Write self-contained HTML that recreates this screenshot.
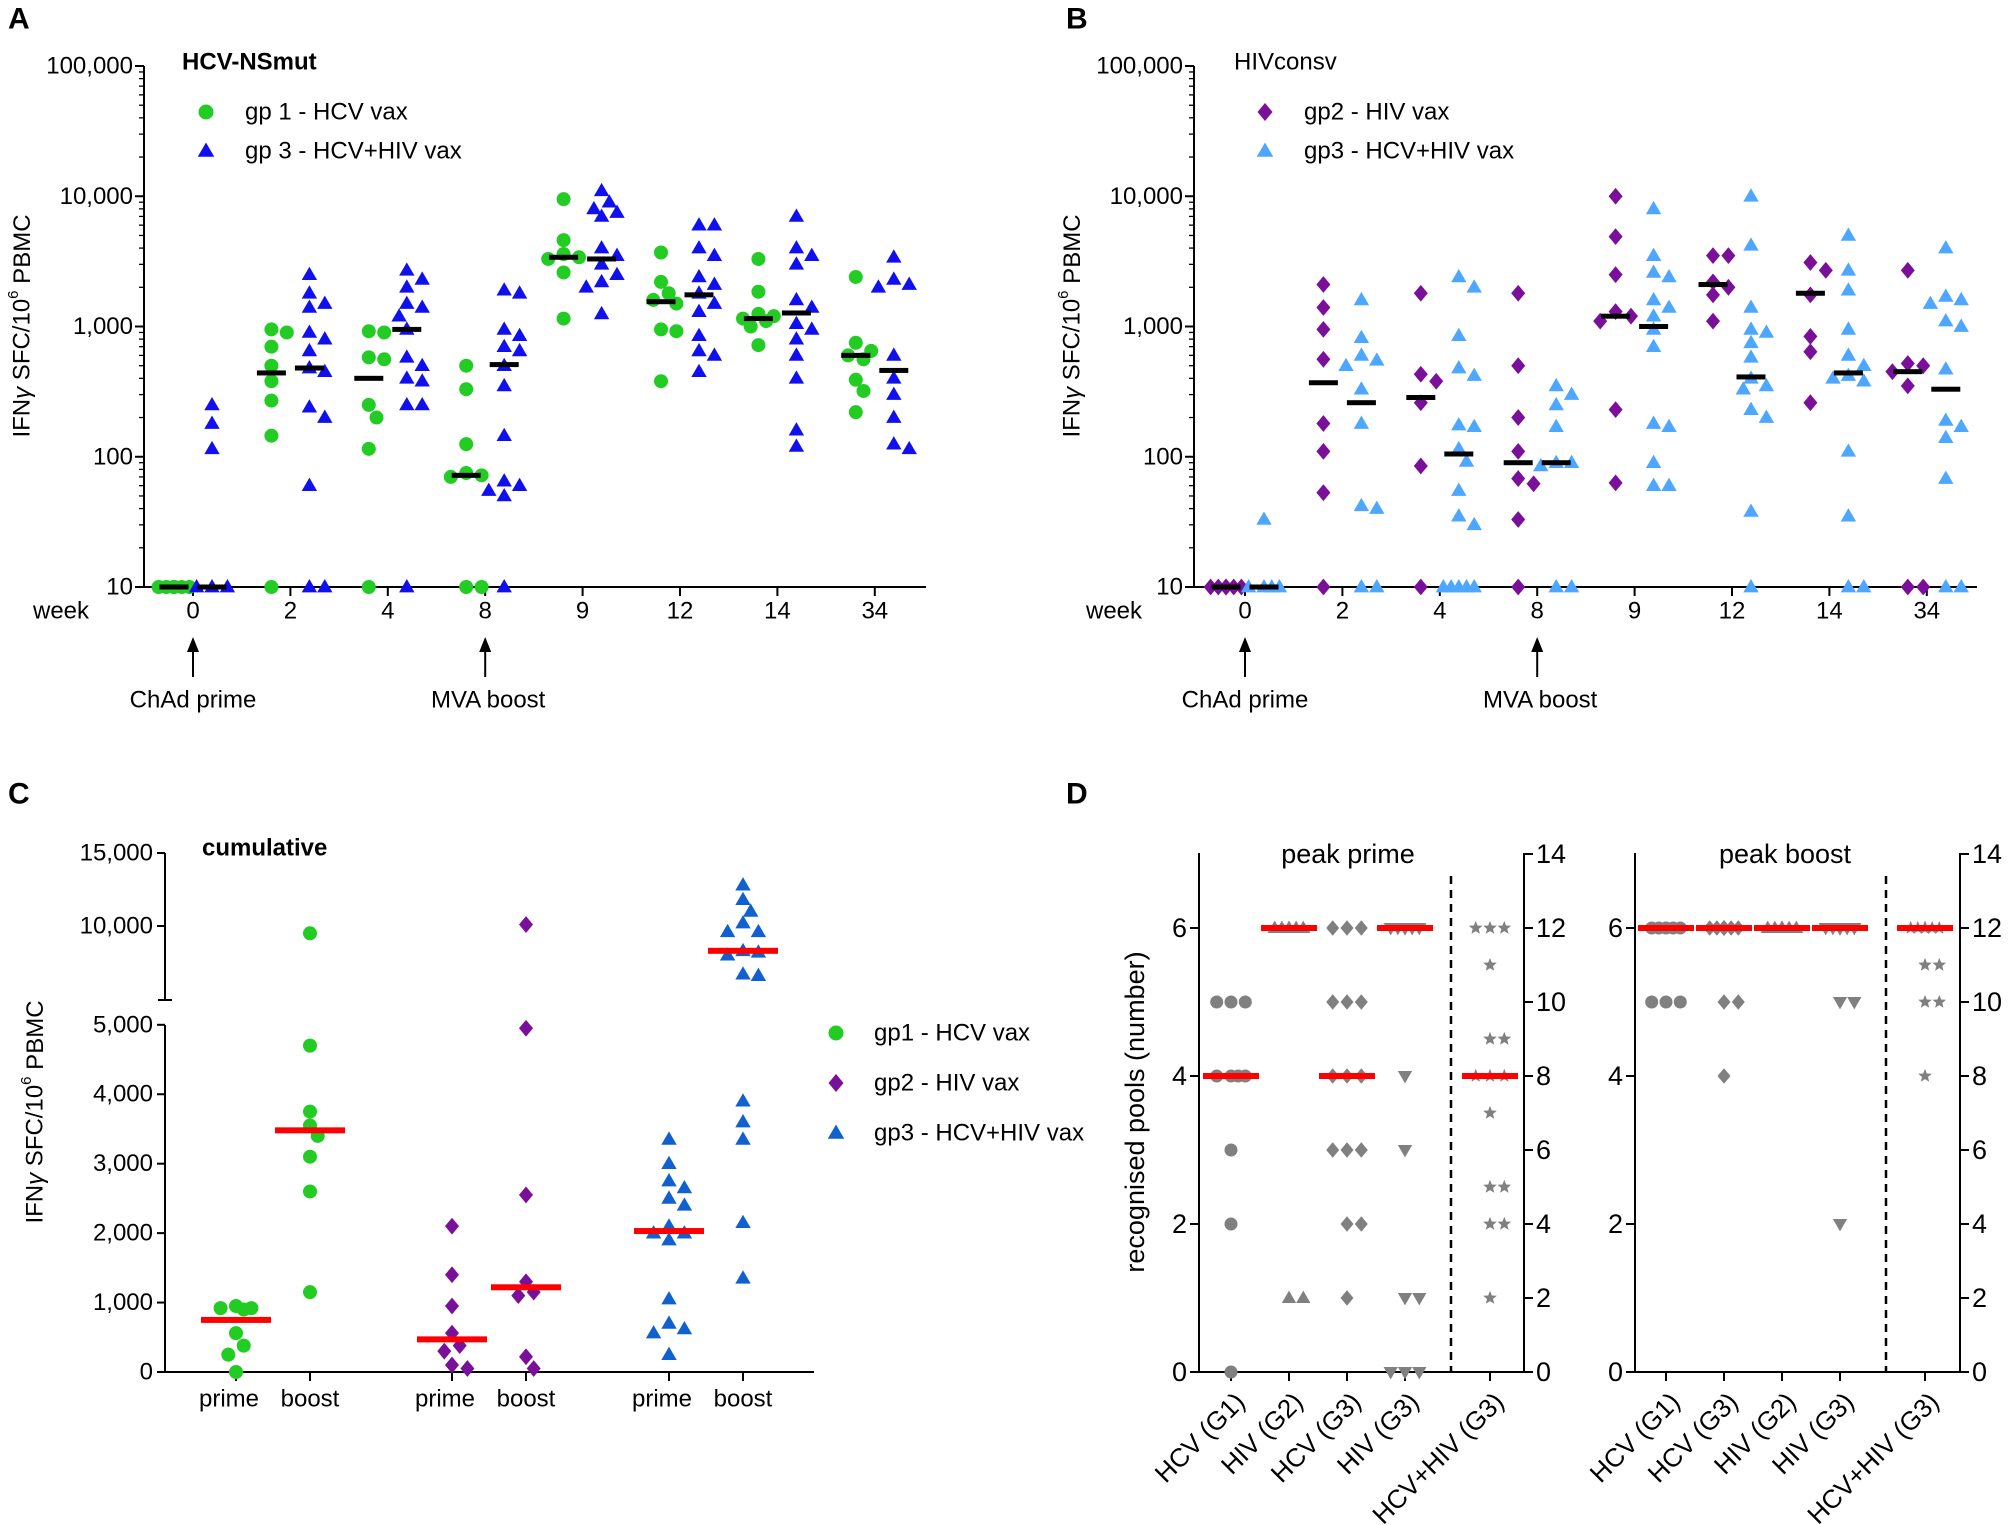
<!DOCTYPE html>
<html><head><meta charset="utf-8">
<style>
html,body{margin:0;padding:0;background:#fff;}
svg{display:block;font-family:"Liberation Sans",Arial,sans-serif;}
</style></head>
<body>
<svg id="fig" width="2008" height="1525" viewBox="0 0 2008 1525" xmlns="http://www.w3.org/2000/svg">
</svg>
<script>
// ---------- Panel A data (HCV-NSmut) ----------
const weeksA = ["0","2","4","8","9","12","14","34"];
const gp1A = [
 [10,10,10,10,10,10,10,10],
 [950,900,700,500,380,270,145,10],
 [920,900,580,560,250,200,115,10],
 [500,330,125,75,72,70,10,10],
 [9500,4600,3600,3400,3300,2600,1150],
 [3700,2200,1800,1600,1500,950,920,380],
 [3300,1850,1250,1200,1150,1100,1000,720],
 [2400,750,650,600,560,390,320,220]];
const gp3A = [
 [250,180,115,10,10,10],
 [2500,1800,1500,1400,900,800,650,480,450,240,200,60,10,10],
 [2700,2300,2000,1500,1400,1200,950,580,500,400,380,250,250,10],
 [1900,1800,950,850,700,650,500,350,145,65,60,55,50,10],
 [11000,9000,8000,7500,7000,4000,3500,3000,2500,2200,2000,1250],
 [6000,6000,4000,3500,2400,2100,1800,1500,1300,850,650,600,450],
 [7000,4000,3500,3000,1600,1400,1050,950,800,600,400,160,120],
 [3400,2300,2100,2000,600,400,300,200,125,115]];
const gp1AMed = [10,440,400,72,3400,1550,1150,600];
const gp3AMed = [10,480,950,510,3300,1750,1270,460];
// ---------- Panel B data (HIVconsv) ----------
const gp2B = [
 [10,10,10,10,10,10,10],
 [2100,1400,950,560,180,110,53,10],
 [1800,430,380,260,85,10],
 [1800,500,200,110,68,62,33,10],
 [10000,4900,2500,1300,1200,1100,230,63],
 [3500,3500,2200,2000,1750,1100],
 [3100,2700,1750,840,640,260],
 [2700,520,500,450,350,10,10]];
const gp3B = [
 [33,10,10,10,10],
 [1600,820,600,550,500,330,180,42,40,10,10],
 [2400,2000,850,480,420,175,170,115,92,55,35,30,10,10,10,10,10],
 [350,300,250,170,90,90,85,10,10],
 [8000,3500,2600,2400,1600,1400,1200,950,700,180,170,90,60,60],
 [10000,4200,1400,950,900,750,580,400,350,330,230,200,38,10],
 [5000,2700,1900,950,600,500,420,400,380,110,35,10,10],
 [4000,1700,1600,1500,1100,1000,470,190,170,140,68,10,10]];
const gp2BMed = [10,370,285,90,1200,2100,1800,450];
const gp3BMed = [10,260,105,90,1000,410,440,330];
// ---------- Panel C data (cumulative) ----------
const catsC = ["prime","boost","prime","boost","prime","boost"];
const gp1C_prime = [950,920,920,900,560,380,250,0];
const gp1C_boost = [9500,4700,3750,3550,3400,3100,2600,1150];
const gp2C_prime = [2100,1400,950,560,380,300,100,50];
const gp2C_boost = [10100,4950,2550,1300,1150,1100,220,50];
const gp3C_prime = [3350,3000,2750,2650,2500,2400,2100,2000,2000,1900,1050,700,620,560,250];
const gp3C_boost = [12800,11800,11000,10200,9600,9600,8300,8200,8000,6700,6600,3900,3600,3350,2150,1350];
const medC = [750,3480,470,1220,2030,8300];
const ticksCLow = [0,1000,2000,3000,4000,5000];
const ticksCHigh = [10000,15000];
// ---------- Panel D data (recognised pools) ----------
const catsDPrime = ["HCV (G1)","HIV (G2)","HCV (G3)","HIV (G3)","HCV+HIV (G3)"];
const catsDBoost = ["HCV (G1)","HCV (G3)","HIV (G2)","HIV (G3)","HCV+HIV (G3)"];
const dPrime = [
 [5,5,5,4,4,4,4,3,2,0],
 [6,6,6,6,6,6,1,1],
 [6,6,6,5,5,5,4,4,4,3,3,3,2,2,1],
 [6,6,6,6,6,6,6,4,3,1,1,0,0,0],
 [12,12,12,11,9,9,8,8,8,7,5,5,4,4,2]];
const dBoost = [
 [6,6,6,6,6,5,5,5],
 [6,6,6,6,6,6,6,6,6,6,6,6,5,5,4],
 [6,6,6,6,6,6,6,6],
 [6,6,6,6,6,6,6,6,6,6,6,6,5,5,2],
 [12,12,12,12,12,12,12,12,11,11,10,10,8]];
const medDPrime = [4,6,4,6,8];
const medDBoost = [6,6,6,6,12];

// ---------- helpers ----------
const NS="http://www.w3.org/2000/svg";
const svg=document.getElementById('fig');
function el(tag,attrs,parent){const e=document.createElementNS(NS,tag);for(const k in attrs)e.setAttribute(k,attrs[k]);(parent||svg).appendChild(e);return e;}
function txt(s,x,y,size,opts,parent){opts=opts||{};const t=el('text',{x:x,y:y,'font-size':size,'text-anchor':opts.anchor||'start','dominant-baseline':'central',fill:'#000','font-weight':opts.bold?'bold':'normal'},parent);if(opts.transform)t.setAttribute('transform',opts.transform);t.textContent=s;return t;}
function line(x1,y1,x2,y2,w,parent,extra){const l=el('line',Object.assign({x1:x1,y1:y1,x2:x2,y2:y2,stroke:'#000','stroke-width':w||2},extra||{}),parent);return l;}
function marker(shape,x,y,s,color,parent){
  let e;
  if(shape==='circle'){e=el('circle',{cx:x,cy:y,r:s/2,fill:color},parent);}
  else if(shape==='tri'){const h=s*0.95;e=el('polygon',{points:`${x},${y-h*0.6} ${x-s*0.55},${y+h*0.4} ${x+s*0.55},${y+h*0.4}`,fill:color},parent);}
  else if(shape==='tridown'){const h=s*0.95;e=el('polygon',{points:`${x},${y+h*0.6} ${x-s*0.55},${y-h*0.4} ${x+s*0.55},${y-h*0.4}`,fill:color},parent);}
  else if(shape==='diamond'){const a=s*0.6,b=s*0.5;e=el('polygon',{points:`${x},${y-a} ${x+b},${y} ${x},${y+a} ${x-b},${y}`,fill:color},parent);}
  else if(shape==='star'){let p=[];for(let i=0;i<10;i++){const r=i%2?s*0.24:s*0.55;const a=-Math.PI/2+i*Math.PI/5;p.push((x+r*Math.cos(a)).toFixed(1)+','+(y+r*Math.sin(a)).toFixed(1));}e=el('polygon',{points:p.join(' '),fill:color},parent);}
  return e;
}
// limited-width beeswarm placement: returns x offsets
function swarm(ys,d,maxW){
  const placed=[];const out=[];
  const step=d*0.55;
  const cands=[0];
  for(let k=1;k*step<=maxW+0.01;k++){cands.push(k*step);cands.push(-k*step);}
  ys.forEach((y,i)=>{
    let best=null,bestD=-1;
    for(const off of cands){
      let md=Infinity;
      placed.forEach(p=>{md=Math.min(md,Math.hypot(p[0]-off,p[1]-y));});
      if(md>=d*0.92){best=off;bestD=Infinity;break;}
      if(md>bestD){bestD=md;best=off;}
    }
    placed.push([best,y]);out[i]=best;
  });
  return out;
}
function drawGroup(vals,cx,yf,shape,color,size,parent,name,maxW){
  const g=el('g',{},parent);
  
  
  const ys=vals.map(yf);
  const offs=swarm(ys,size,maxW);
  vals.forEach((v,i)=>{
    const m=marker(shape,cx+offs[i],ys[i],size,color,g);
    
    
  });
}
function median(x,y,w,h,color,parent,name){
  const r=el('rect',{x:x-w/2,y:y-h/2,width:w,height:h,fill:color},parent);
  
  
}
function ytitle(cx,cy,parent,size){
  const t=el('text',{x:cx,y:cy,'font-size':size||24,'text-anchor':'middle','dominant-baseline':'central',transform:`rotate(-90 ${cx} ${cy})`},parent);
  
  
  t.innerHTML='IFN<tspan font-style="italic">γ</tspan> SFC/10<tspan font-size="15" dy="-9">6</tspan><tspan dy="9"> PBMC</tspan>';
}
function arrow(x,y1,y2,parent){
  line(x,y1+12,x,y2,2,parent);
  el('polygon',{points:`${x},${y1} ${x-6},${y1+15} ${x+6},${y1+15}`,fill:'#000'},parent);
}

// ---------- Log panels A & B ----------
function logPanel(cfg){
  const g=el('g',{});
  
  
  const y0=587,dec=130.25;
  const yf=v=>y0-(Math.log10(v)-1)*dec;
  const xf=i=>cfg.x0w+i*cfg.dx;
  txt(cfg.letter,cfg.letterX,19,30,{bold:true},g);
  const ax=el('g',{},g);
  
  
  line(cfg.ax,yf(100000),cfg.ax,y0+1,2,ax);
  for(let d=1;d<=5;d++){
    const v=Math.pow(10,d);
    line(cfg.ax-9,yf(v),cfg.ax,yf(v),2,ax);
    txt(v.toLocaleString('en-US'),cfg.ax-11,yf(v),24,{anchor:'end'},ax);
    if(d<5)for(let m=2;m<10;m++){line(cfg.ax-5,yf(v*m),cfg.ax,yf(v*m),1.3,ax);}
  }
  const xa=el('g',{},g);
  
  
  line(cfg.ax,y0,cfg.axEnd,y0,2,xa);
  weeksA.forEach((w,i)=>{line(xf(i),y0,xf(i),y0+9,2,xa);txt(w,xf(i),611,24,{anchor:'middle'},xa);});
  txt('week',cfg.weekX,611,24,{anchor:'middle'},xa);
  ytitle(cfg.ytX,326,g);
  const tt=txt(cfg.title,cfg.titleX,62,24,{bold:cfg.bold},g);
  
  arrow(xf(0),637,677,g);arrow(xf(3),637,677,g);
  txt('ChAd prime',xf(0),700,24,{anchor:'middle'},g);
  txt('MVA boost',xf(3)+3,700,24,{anchor:'middle'},g);
  const lg=el('g',{},g);
  
  
  marker(cfg.s1,cfg.legX,112,15,cfg.c1,lg);txt(cfg.l1,cfg.legX+39,112,24,{},lg);
  marker(cfg.s2,cfg.legX,151,15,cfg.c2,lg);txt(cfg.l2,cfg.legX+39,151,24,{},lg);
  cfg.d1.forEach((vals,i)=>{drawGroup(vals,xf(i)-19,yf,cfg.s1,cfg.c1,14,g,cfg.n1+'-week-'+weeksA[i],17);});
  cfg.d2.forEach((vals,i)=>{drawGroup(vals,xf(i)+19,yf,cfg.s2,cfg.c2,14,g,cfg.n2+'-week-'+weeksA[i],17);});
  cfg.m1.forEach((m,i)=>median(xf(i)-19,yf(m),29,5,'#000',g,cfg.n1+'-median'));
  cfg.m2.forEach((m,i)=>median(xf(i)+19,yf(m),29,5,'#000',g,cfg.n2+'-median'));
}
logPanel({name:'panel-a',letter:'A',letterX:8,ax:144,axEnd:926,x0w:193,dx:97.4,weekX:61,ytX:22,title:'HCV-NSmut',titleX:182,bold:true,
  legX:206,s1:'circle',c1:'#22cc22',l1:'gp 1 - HCV vax',s2:'tri',c2:'#1010ee',l2:'gp 3 - HCV+HIV vax',
  d1:gp1A,d2:gp3A,m1:gp1AMed,m2:gp3AMed,n1:'gp1',n2:'gp3'});
logPanel({name:'panel-b',letter:'B',letterX:1066,ax:1194,axEnd:1977,x0w:1245,dx:97.4,weekX:1114,ytX:1072,title:'HIVconsv',titleX:1234,bold:false,
  legX:1265,s1:'diamond',c1:'#7a0f99',l1:'gp2 - HIV vax',s2:'tri',c2:'#4da6ff',l2:'gp3 - HCV+HIV vax',
  d1:gp2B,d2:gp3B,m1:gp2BMed,m2:gp3BMed,n1:'gp2',n2:'gp3'});

// ---------- Panel C ----------
(function(){
  const g=el('g',{});
  
  
  const yf=v=> v<=5000 ? 1372-v*0.06944 : 999-(v-5000)*0.0146;
  const xs=[236,310,452,526,669,743];
  txt('C',8,794,30,{bold:true},g);
  const ax=el('g',{},g);
  
  
  line(165,853,165,1000,2,ax);line(165,1025,165,1373,2,ax);
  line(158,1000,172,1000,2,ax);
  ticksCLow.forEach(v=>{line(157,yf(v),165,yf(v),2,ax);txt(v.toLocaleString('en-US'),153,yf(v),24,{anchor:'end'},ax);});
  ticksCHigh.forEach(v=>{line(157,yf(v),165,yf(v),2,ax);txt(v.toLocaleString('en-US'),153,yf(v),24,{anchor:'end'},ax);});
  const xa=el('g',{},g);
  
  
  line(165,1372,814,1372,2,xa);
  catsC.forEach((c,i)=>{line(xs[i],1372,xs[i],1381,2,xa);txt(c,xs[i]-(i%2?0:7),1399,24,{anchor:'middle'},xa);});
  ytitle(35,1112,g);
  txt('cumulative',202,848,24,{bold:true},g);
  const groups=[[gp1C_prime,'circle','#22cc22'],[gp1C_boost,'circle','#22cc22'],[gp2C_prime,'diamond','#7a0f99'],[gp2C_boost,'diamond','#7a0f99'],[gp3C_prime,'tri','#1060d0'],[gp3C_boost,'tri','#1060d0']];
  groups.forEach((gr,i)=>{drawGroup(gr[0],xs[i],yf,gr[1],gr[2],14,g,'cumulative-'+catsC[i]+'-'+i,26);});
  medC.forEach((m,i)=>median(xs[i],yf(m),70,6,'#ff0000',g,'cumulative-median'));
  const lg=el('g',{},g);
  
  
  marker('circle',836,1033,15,'#22cc22',lg);txt('gp1 - HCV vax',874,1033,24,{},lg);
  marker('diamond',836,1083,15,'#7a0f99',lg);txt('gp2 - HIV vax',874,1083,24,{},lg);
  marker('tri',836,1133,15,'#1060d0',lg);txt('gp3 - HCV+HIV vax',874,1133,24,{},lg);
})();

// ---------- Panel D ----------
function dPanel(cfg){
  const g=el('g',{});
  
  
  const yL=v=>1372-v*74, yR=v=>1372-v*37;
  const ax=el('g',{},g);
  
  
  line(cfg.l,853,cfg.l,1373,2,ax);line(cfg.r,853,cfg.r,1373,2,ax);line(cfg.l,1372,cfg.r,1372,2,ax);
  [0,2,4,6].forEach(v=>{line(cfg.l-9,yL(v),cfg.l,yL(v),2,ax);txt(String(v),cfg.l-12,yL(v),27,{anchor:'end'},ax);});
  [0,2,4,6,8,10,12,14].forEach(v=>{line(cfg.r,yR(v),cfg.r+9,yR(v),2,ax);txt(String(v),cfg.r+12,yR(v),27,{},ax);});
  const dl=line(cfg.dash,876,cfg.dash,1372,2.5,g,{'stroke-dasharray':'8,6'});
  
  
  txt(cfg.title,cfg.titleX,854,27,{anchor:'middle'},g);
  const shapes=cfg.shapes;
  cfg.cats.forEach((c,i)=>{
    const x=cfg.xs[i];
    line(x,1372,x,1381,2,ax);
    const lx=x+9,ly=1397;
    txt(c,lx,ly,26,{anchor:'end',transform:`rotate(-45 ${lx} ${ly})`},g);
    const yf=i===4?yR:yL;
    drawGroup(cfg.data[i],x,yf,shapes[i],'#808080',13,g,'pools-'+c.replace(/[^A-Za-z0-9]+/g,'-').toLowerCase(),18);
  });
  cfg.cats.forEach((c,i)=>{
    const yf=i===4?yR:yL;
    median(cfg.xs[i],yf(cfg.med[i]),56,6,'#ff0000',g,'pools-median');
  });
}
dPanel({name:'panel-d-prime',l:1199,r:1524,dash:1451,title:'peak prime',titleX:1348,xs:[1231,1289,1347,1405,1490],cats:catsDPrime,data:dPrime,med:medDPrime,shapes:['circle','tri','diamond','tridown','star']});
dPanel({name:'panel-d-boost',l:1635,r:1960,dash:1886,title:'peak boost',titleX:1785,xs:[1666,1724,1782,1840,1925],cats:catsDBoost,data:dBoost,med:medDBoost,shapes:['circle','diamond','tri','tridown','star']});
txt('D',1066,794,30,{bold:true});
(function(){const cx=1135,cy=1112;const t=el('text',{x:cx,y:cy,'font-size':27,'text-anchor':'middle','dominant-baseline':'central',transform:`rotate(-90 ${cx} ${cy})`});


t.textContent='recognised pools (number)';})();
</script>
</body></html>
